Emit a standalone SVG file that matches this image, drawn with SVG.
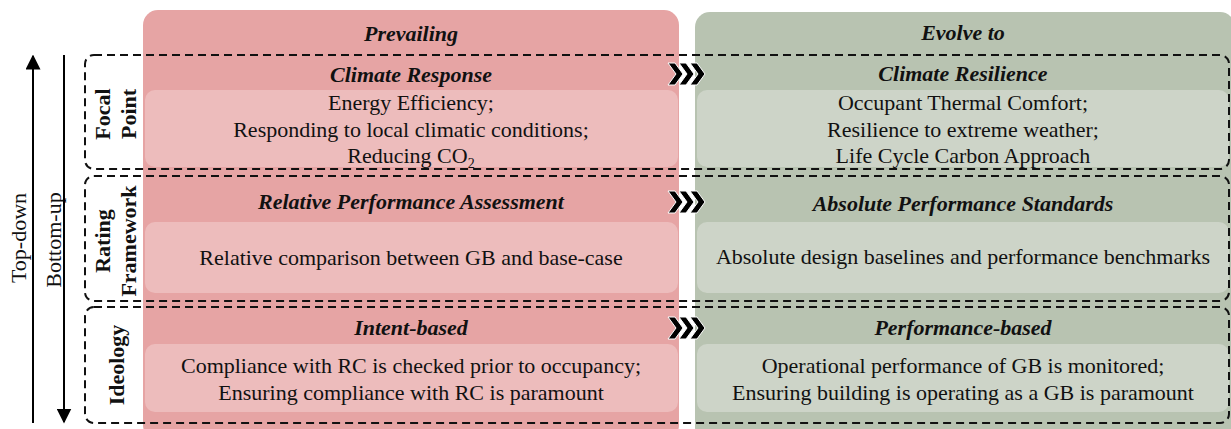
<svg xmlns="http://www.w3.org/2000/svg" width="1231" height="429" viewBox="0 0 1231 429">
<style>
text{font-family:"Liberation Serif","Times New Roman",serif;fill:#111;font-size:22px}
.c{text-anchor:middle}
.h{font-weight:bold;font-style:italic}
.b{font-weight:bold}
.red{fill:#e6a4a4}
.redl{fill:#edbcbc}
.grn{fill:#b8c3b1}
.grnl{fill:#cdd4c8}
.dash{fill:none;stroke:#111;stroke-width:2;stroke-dasharray:8 5}
.ln{stroke:#000;stroke-width:2;fill:none}
.chev{fill:#000;stroke:#fff;stroke-width:1}
</style>
<defs>
<marker id="ah" viewBox="0 0 10 10" refX="9" refY="5" markerWidth="7" markerHeight="7.5" orient="auto" markerUnits="userSpaceOnUse">
<path d="M0,0 L10,5 L0,10 Z" fill="#000"/>
</marker>
<marker id="ah2" viewBox="0 0 10 10" refX="9" refY="5" markerWidth="15" markerHeight="15" orient="auto" markerUnits="userSpaceOnUse">
<path d="M0,0 L10,5 L0,10 Z" fill="#000"/>
</marker>
<polygon id="chev" class="chev" points="0,-11 7,-11 15,0 7,11 0,11 8,0"/>
</defs>

<g id="col-prevailing">
<rect class="red" x="143" y="10" width="536" height="430" rx="15"/>
<rect class="redl" x="145" y="90" width="533" height="77" rx="10"/>
<rect class="redl" x="145" y="222" width="533" height="71" rx="10"/>
<rect class="redl" x="145" y="344" width="533" height="68" rx="10"/>
</g>
<g id="col-evolve">
<rect class="grn" x="695" y="12" width="540" height="430" rx="15"/>
<rect class="grnl" x="697" y="90" width="532" height="77" rx="10"/>
<rect class="grnl" x="697" y="222" width="532" height="71" rx="10"/>
<rect class="grnl" x="697" y="344" width="532" height="68" rx="10"/>
</g>

<g id="row-focal">
<rect class="dash" x="85" y="55" width="1144" height="114" rx="9"/>
<text class="b c" transform="translate(110,114) rotate(-90)">Focal</text>
<text class="b c" transform="translate(136,114) rotate(-90)">Point</text>
</g>
<g id="row-rating">
<rect class="dash" x="85" y="176" width="1144" height="125" rx="9"/>
<text class="b c" transform="translate(110,241) rotate(-90)">Rating</text>
<text class="b c" transform="translate(136,241) rotate(-90)">Framework</text>
</g>
<g id="row-ideology">
<rect class="dash" x="85" y="307" width="1144" height="116" rx="9"/>
<text class="b c" transform="translate(124,365) rotate(-90)">Ideology</text>
</g>

<g id="prevailing-text">
<text class="h c" x="411" y="41">Prevailing</text>
<text class="h c" x="411" y="82">Climate Response</text>
<text class="c" x="411" y="110">Energy Efficiency;</text>
<text class="c" x="411" y="137">Responding to local climatic conditions;</text>
<text class="c" x="411" y="163">Reducing CO<tspan font-size="14" dy="5">2</tspan></text>
<text class="h c" x="411" y="209">Relative Performance Assessment</text>
<text class="c" x="411" y="265">Relative comparison between GB and base-case</text>
<text class="h c" x="411" y="335">Intent-based</text>
<text class="c" x="411" y="373">Compliance with RC is checked prior to occupancy;</text>
<text class="c" x="411" y="400">Ensuring compliance with RC is paramount</text>
</g>
<g id="evolve-text">
<text class="h c" x="963" y="40">Evolve to</text>
<text class="h c" x="963" y="81">Climate Resilience</text>
<text class="c" x="963" y="110">Occupant Thermal Comfort;</text>
<text class="c" x="963" y="137">Resilience to extreme weather;</text>
<text class="c" x="963" y="163">Life Cycle Carbon Approach</text>
<text class="h c" x="963" y="211">Absolute Performance Standards</text>
<text class="c" x="963" y="264">Absolute design baselines and performance benchmarks</text>
<text class="h c" x="963" y="335">Performance-based</text>
<text class="c" x="963" y="373">Operational performance of GB is monitored;</text>
<text class="c" x="963" y="400">Ensuring building is operating as a GB is paramount</text>
</g>

<g id="axis-labels">
<text class="c" transform="translate(26,238) rotate(-90)">Top-down</text>
<text class="c" transform="translate(61,240) rotate(-90)">Bottom-up</text>
</g>

<g id="connectors">
<line class="ln" x1="33" y1="423" x2="33" y2="56" marker-end="url(#ah2)"/>
<line class="ln" x1="64" y1="55" x2="64" y2="422" marker-end="url(#ah2)"/>
<use href="#chev" x="668" y="74"/><use href="#chev" x="679" y="74"/><use href="#chev" x="690" y="74"/>
<use href="#chev" x="668" y="202"/><use href="#chev" x="679" y="202"/><use href="#chev" x="690" y="202"/>
<use href="#chev" x="668" y="328"/><use href="#chev" x="679" y="328"/><use href="#chev" x="690" y="328"/>
</g>
</svg>
